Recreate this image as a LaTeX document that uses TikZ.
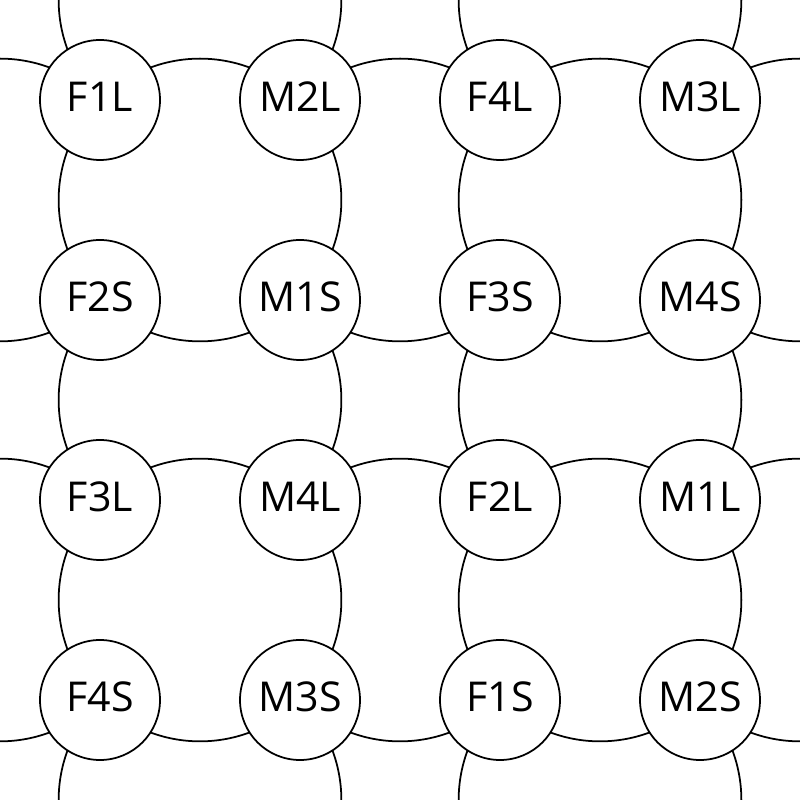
\documentclass[tikz,border=0pt]{standalone}
\usepackage{fontspec}
\setmainfont{Open Sans}
\usetikzlibrary{backgrounds}
\tikzset{
  site/.style={circle,draw,fill=white,line width=0.5pt,minimum size=12mm,inner sep=0pt,
    text depth=0.6mm,font=\fontsize{11.7}{14}\selectfont},
  link/.style={line width=0.5pt}
}
\begin{document}
\begin{tikzpicture}
\useasboundingbox (0,0) rectangle (8,8);
\node[site] (F1L) at (1,7) {F1L};
\node[site] (M2L) at (3,7) {M2L};
\node[site] (F4L) at (5,7) {F4L};
\node[site] (M3L) at (7,7) {M3L};
\node[site] (F2S) at (1,5) {F2S};
\node[site] (M1S) at (3,5) {M1S};
\node[site] (F3S) at (5,5) {F3S};
\node[site] (M4S) at (7,5) {M4S};
\node[site] (F3L) at (1,3) {F3L};
\node[site] (M4L) at (3,3) {M4L};
\node[site] (F2L) at (5,3) {F2L};
\node[site] (M1L) at (7,3) {M1L};
\node[site] (F4S) at (1,1) {F4S};
\node[site] (M3S) at (3,1) {M3S};
\node[site] (F1S) at (5,1) {F1S};
\node[site] (M2S) at (7,1) {M2S};
% ends that run off the sheet
\coordinate (wA) at (-1,7); \coordinate (eA) at (9,7);
\coordinate (wB) at (-1,5); \coordinate (eB) at (9,5);
\coordinate (wC) at (-1,3); \coordinate (eC) at (9,3);
\coordinate (wD) at (-1,1); \coordinate (eD) at (9,1);
\coordinate (nA) at (1,9); \coordinate (sA) at (1,-1);
\coordinate (nB) at (3,9); \coordinate (sB) at (3,-1);
\coordinate (nC) at (5,9); \coordinate (sC) at (5,-1);
\coordinate (nD) at (7,9); \coordinate (sD) at (7,-1);
\begin{scope}[on background layer]
\clip (0,0) rectangle (8,8);
% rows
\foreach \a/\b in {wA/F1L,F1L/M2L,M2L/F4L,F4L/M3L,M3L/eA}
  \draw[link] (\a.center) to[bend left=45] (\b.center);
\foreach \a/\b in {wB/F2S,F2S/M1S,M1S/F3S,F3S/M4S,M4S/eB}
  \draw[link] (\a.center) to[bend right=45] (\b.center);
\foreach \a/\b in {wC/F3L,F3L/M4L,M4L/F2L,F2L/M1L,M1L/eC}
  \draw[link] (\a.center) to[bend left=45] (\b.center);
\foreach \a/\b in {wD/F4S,F4S/M3S,M3S/F1S,F1S/M2S,M2S/eD}
  \draw[link] (\a.center) to[bend right=45] (\b.center);
% columns
\foreach \a/\b in {nA/F1L,F1L/F2S,F2S/F3L,F3L/F4S,F4S/sA}
  \draw[link] (\a.center) to[bend right=45] (\b.center);
\foreach \a/\b in {nB/M2L,M2L/M1S,M1S/M4L,M4L/M3S,M3S/sB}
  \draw[link] (\a.center) to[bend left=45] (\b.center);
\foreach \a/\b in {nC/F4L,F4L/F3S,F3S/F2L,F2L/F1S,F1S/sC}
  \draw[link] (\a.center) to[bend right=45] (\b.center);
\foreach \a/\b in {nD/M3L,M3L/M4S,M4S/M1L,M1L/M2S,M2S/sD}
  \draw[link] (\a.center) to[bend left=45] (\b.center);
\end{scope}
\end{tikzpicture}
\end{document}
